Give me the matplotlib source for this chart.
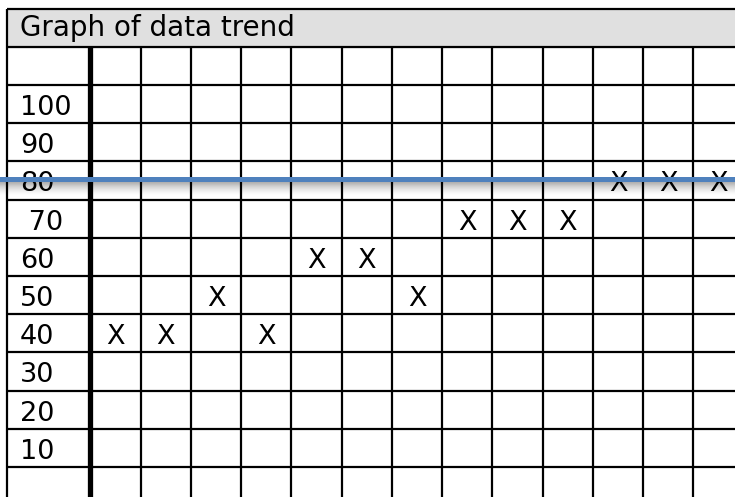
import matplotlib.pyplot as plt
import numpy as np

title = "Graph of data trend"
row_values = [100, 90, 80, 70, 60, 50, 40, 30, 20, 10]
row_labels = ["100", "90", "80", " 70", "60", "50", "40", "30", "20", "10"]
# one X per column, value of the row it sits in
x_values = [40, 40, 50, 40, 60, 60, 50, 70, 70, 70, 80, 80, 80]
trend_level = 80.5

n_cols = len(x_values)

fig = plt.figure(figsize=(7.35, 4.97), dpi=100)
ax = fig.add_axes([0, 0, 1, 1])
ax.set_xlim(-1.801, 12.826)
ax.set_ylim(-2.88, 127.23)
ax.axis("off")

left = -1.656
right = 12.826
bottom = -2.88
header_bottom = 115
header_top = 125
lw = 1.6

# header band
ax.fill_between([left, right], header_bottom, header_top, color="#e0e0e0", zorder=1)
ax.text(-1.40, 117.7, title, fontsize=20, va="baseline", ha="left", zorder=5)

# horizontal grid lines (row borders)
row_edges = np.arange(5, header_top + 1, 10)
for yv in row_edges:
    ax.plot([left, right], [yv, yv], color="black", lw=lw, zorder=3, solid_capstyle="butt")

# vertical lines
ax.plot([left, left], [bottom, header_top], color="black", lw=lw, zorder=3, solid_capstyle="butt")
ax.plot([0, 0], [bottom, header_bottom], color="black", lw=3.8, zorder=3, solid_capstyle="butt")
for xv in range(1, n_cols):
    ax.plot([xv, xv], [bottom, header_bottom], color="black", lw=lw, zorder=3, solid_capstyle="butt")

# row labels
for v, lab in zip(row_values, row_labels):
    ax.text(-1.40, v - 2.9, lab, fontsize=19.5, va="baseline", ha="left", zorder=4)

# X marks
for i, v in enumerate(x_values):
    ax.text(i + 0.5, v - 2.9, "X", fontsize=19.5, va="baseline", ha="center", zorder=4)

# trend line with soft shadow underneath
shadow_top = trend_level - 0.6
n_bands = 14
for k in range(n_bands):
    y0 = shadow_top - k * 0.27
    y1 = y0 - 0.27
    a = 0.55 * (1 - k / n_bands) ** 1.5
    ax.fill_between([left - 0.2, right], y1, y0, color="#606060", alpha=a, lw=0, zorder=2)
ax.axhline(trend_level, color="#4f81bd", lw=3.6, zorder=6)

fig.savefig("out.png", dpi=100)
